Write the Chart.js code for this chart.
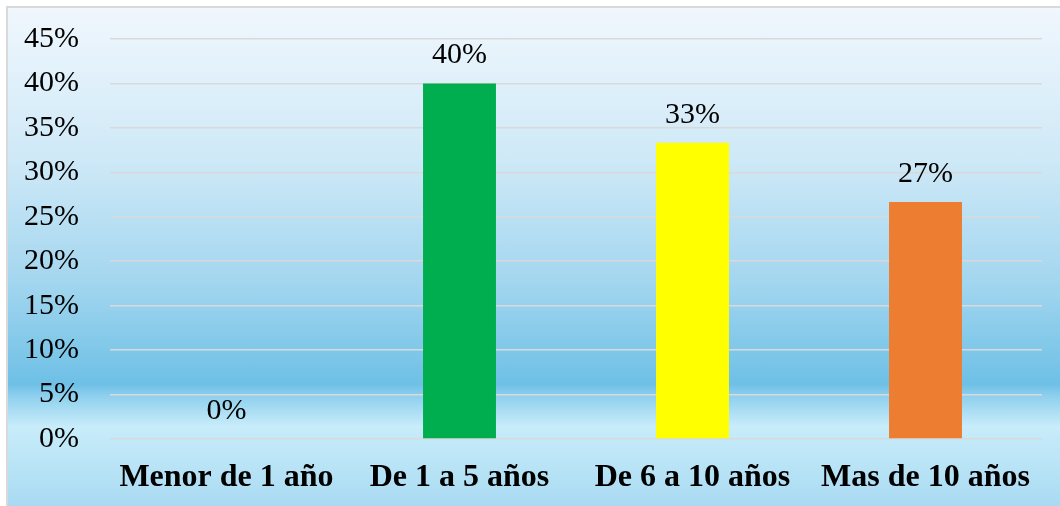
<!DOCTYPE html>
<html>
<head>
<meta charset="utf-8">
<script src="https://cdn.jsdelivr.net/npm/chart.js@4"></script>
<style>
  html, body { margin: 0; padding: 0; background: #fff; }
  #frame {
    position: absolute; left: 6px; top: 6px; width: 1054px; height: 500px;
    border-left: 2px solid #d9d9d9; border-top: 2px solid #d9d9d9; box-sizing: border-box;
    background: linear-gradient(to bottom, #f0f7fd 0%, #cfe9f7 30%, #a3d6ef 55%, #6ec0e6 75.5%, #8fd0ee 78%, #c8ecfa 84%, #bde6f7 90%, #a9daf2 100%);
  }
  #c { position: absolute; left: 0; top: 0; }
</style>
</head>
<body>
<div id="frame"></div>
<canvas id="c" width="1060" height="506"></canvas>
<script>
const categories = ["Menor de 1 año", "De 1 a 5 años", "De 6 a 10 años", "Mas de 10 años"];
const values = [0, 40, 33.33, 26.67];
const valueLabels = ["0%", "40%", "33%", "27%"];
const barColors = ["#00ad4f", "#00ad4f", "#ffff00", "#ed7d31"];
const yTicks = [0, 5, 10, 15, 20, 25, 30, 35, 40, 45];

const serif = "'Liberation Serif', 'Times New Roman', serif";

// etiquetas encima de cada barra
const barLabels = {
  id: "barLabels",
  afterDatasetsDraw(chart) {
    const ctx = chart.ctx;
    const meta = chart.getDatasetMeta(0);
    ctx.save();
    ctx.font = "30px " + serif;
    ctx.fillStyle = "#000";
    ctx.textAlign = "center";
    ctx.textBaseline = "middle";
    meta.data.forEach((bar, i) => {
      ctx.fillText(valueLabels[i], bar.x, bar.y - 28);
    });
    ctx.restore();
  },
};

new Chart(document.getElementById("c"), {
  type: "bar",
  data: {
    labels: categories,
    datasets: [{
      data: values,
      backgroundColor: barColors,
      categoryPercentage: 1, barPercentage: 0.313,
    }],
  },
  options: {
    responsive: false, animation: false,
    layout: { padding: { top: 39, right: 18, left: 0, bottom: 0 } },
    scales: {
      y: {
        min: 0, max: 45,
        afterBuildTicks: (s) => { s.ticks = yTicks.map((v) => ({ value: v })); },
        afterFit: (s) => { s.width = 110; s.paddingTop = 0; s.paddingBottom = 0; },
        border: { display: false },
        grid: { color: "#d9d9d9", lineWidth: 1.5, drawTicks: false },
        ticks: {
          color: "#000", padding: 31, font: { family: serif, size: 30 },
          callback: (v) => v + "%",
        },
      },
      x: {
        afterFit: (s) => { s.height = 67; },
        border: { display: false },
        grid: { display: false },
        ticks: { color: "#000", padding: 12, maxRotation: 0, font: { family: serif, size: 32, weight: "bold" } },
      },
    },
    plugins: { legend: { display: false }, tooltip: { enabled: false } },
  },
  plugins: [barLabels],
});
</script>
</body>
</html>
